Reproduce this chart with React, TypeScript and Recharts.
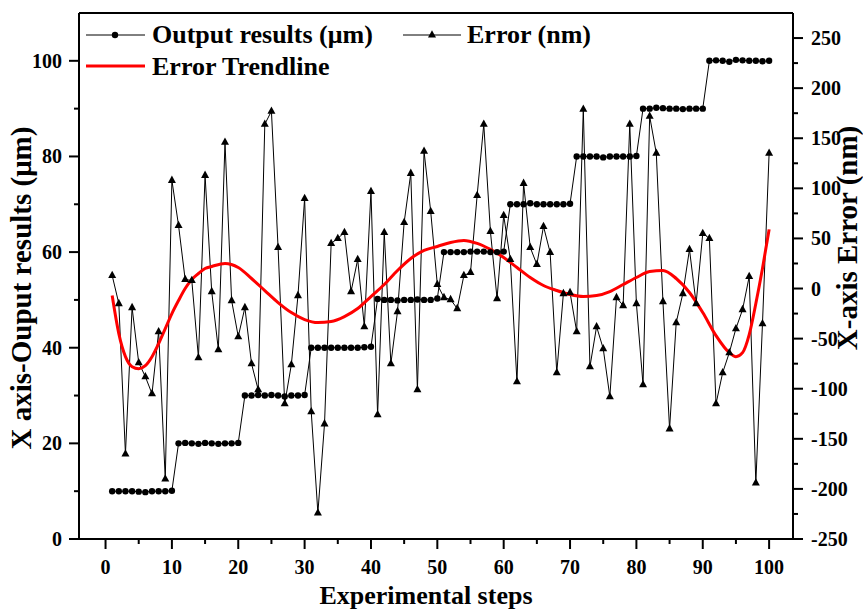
import { Customized, Line, LineChart, ReferenceLine, XAxis, YAxis } from "recharts";

const FONT = "'Liberation Serif', 'Times New Roman', serif";

// X axis-Ouput results (µm), steps 1..100
const outputResults = [
  10, 10, 10, 10, 9.9, 9.8, 10, 10, 10, 10.1,
  20, 20.1, 20, 19.9, 20.1, 20, 19.9, 20, 20, 20.1,
  30, 30, 30.1, 30, 30.1, 30, 29.8, 30, 30, 30.1,
  40, 40, 40, 40, 40, 40, 40, 40, 40.1, 40.2,
  50.2, 50, 50, 49.9, 50, 50, 50.1, 50, 50, 50.3,
  60, 60, 60, 60, 60.1, 60.1, 60.1, 60, 60, 60.1,
  70, 70, 70, 70.2, 70, 70, 70, 70, 70, 70.1,
  80, 80, 80, 80, 79.8, 80, 80, 80, 80, 80.1,
  90, 90, 90.2, 90.1, 90, 90, 89.9, 90, 90, 90,
  100, 100.1, 100, 99.8, 100.2, 100.1, 100, 100, 99.9, 100,
];

// X-axis Error (nm), steps 1..100
const errorNm = [
  13, -15, -165, -19, -74, -88, -105, -43, -190, 108,
  63, 9, 8, -69, 113, -3, -61, 146, -12, -48,
  -19, -75, -101, 164, 177, 41, -115, -76, -7, 90,
  -123, -224, -135, 45, 50, 56, -3, 29, -38, 97,
  -126, 56, -75, -23, 66, 115, -101, 137, 77, 4,
  -9, -11, -20, 13, 16, 93, 164, 57, -10, 73,
  29, -93, 105, 41, 24, 62, 36, -84, -5, -4,
  -43, 179, -78, -38, -60, -108, -9, -17, 164, -15,
  -96, 172, 135, -13, -140, -34, -5, 39, -15, 55,
  50, -115, -84, -64, -40, -21, 12, -194, -35, 135,
];

// Error trendline
const trendSteps = [
  1, 2, 3, 4, 5, 6, 7, 8, 9, 10, 11, 12, 13, 14, 15, 16, 18, 20, 22, 24,
  26, 28, 30, 32, 34, 36, 38, 40, 42, 44, 46, 48, 50, 52, 54, 56, 58, 60,
  62, 64, 66, 68, 70, 72, 74, 76, 78, 80, 82, 84, 86, 88, 90, 92, 94, 95,
  96, 97, 98, 99, 100,
];
const trendValues = [
  -7, -45, -68, -78, -80, -77, -68, -55, -40, -25, -12, 0, 9, 15, 20, 22, 25, 21, 10, -2,
  -14, -24, -31, -34, -33, -28, -20, -8, 4, 18, 30, 38, 42, 46, 48, 45, 39, 31,
  21, 11, 3, -2, -6, -8, -7, -3, 4, 11, 17, 18, 10, -4, -24, -47, -64, -68,
  -64, -46, -15, 20, 59,
];

const xTicks = [0, 5, 10, 15, 20, 25, 30, 35, 40, 45, 50, 55, 60, 65, 70, 75, 80, 85, 90, 95, 100];
const leftTicks = [0, 10, 20, 30, 40, 50, 60, 70, 80, 90, 100];
const rightTicks = [
  -250, -225, -200, -175, -150, -125, -100, -75, -50, -25, 0, 25, 50, 75, 100, 125, 150, 175, 200, 225, 250,
];

const data = outputResults.map((v, i) => {
  const step = i + 1;
  const t = trendSteps.indexOf(step);
  return { step, output: v, error: errorNm[i], trend: t >= 0 ? trendValues[t] : null };
});

const textStyle = { fontFamily: FONT, fontWeight: "bold" as const, fill: "#000" };

function XTick({ x, y, payload }: any) {
  const major = payload.value % 10 === 0;
  return (
    <g>
      <line x1={x} y1={y} x2={x} y2={y + (major ? 10 : 5)} stroke="#000" strokeWidth={2} />
      {major && (
        <text x={x} y={y + 35} textAnchor="middle" fontSize={20} {...textStyle}>
          {payload.value}
        </text>
      )}
    </g>
  );
}

function LeftTick({ x, y, payload }: any) {
  const major = payload.value % 20 === 0;
  return (
    <g>
      <line x1={x - (major ? 10 : 5)} y1={y} x2={x} y2={y} stroke="#000" strokeWidth={2} />
      {major && (
        <text x={x - 17} y={y + 7} textAnchor="end" fontSize={20} {...textStyle}>
          {payload.value}
        </text>
      )}
    </g>
  );
}

function RightTick({ x, y, payload }: any) {
  const major = payload.value % 50 === 0;
  return (
    <g>
      <line x1={x} y1={y} x2={x + (major ? 10 : 5)} y2={y} stroke="#000" strokeWidth={2} />
      {major && (
        <text x={x + 18} y={y + 7} textAnchor="start" fontSize={20} {...textStyle}>
          {payload.value}
        </text>
      )}
    </g>
  );
}

function Triangle({ cx, cy, index }: any) {
  if (cx == null || cy == null) return <g key={`t${index}`} />;
  return (
    <polygon
      key={`t${index}`}
      points={`${cx},${cy - 4.7} ${cx - 4},${cy + 2.6} ${cx + 4},${cy + 2.6}`}
      fill="#000"
    />
  );
}

function Overlay() {
  return (
    <g>
      {/* legend */}
      <line x1={86} y1={35} x2={145} y2={35} stroke="#000" strokeWidth={1} />
      <circle cx={115} cy={35} r={3.2} fill="#000" />
      <text x={152} y={43} fontSize={26} {...textStyle}>Output results (μm)</text>
      <line x1={403} y1={35} x2={461} y2={35} stroke="#000" strokeWidth={1} />
      <polygon points="432,30.3 428,37.6 436,37.6" fill="#000" />
      <text x={467} y={43} fontSize={26} {...textStyle}>Error (nm)</text>
      <line x1={86} y1={66} x2={145} y2={66} stroke="#ff0000" strokeWidth={3} />
      <text x={152} y={75} fontSize={26} {...textStyle}>Error Trendline</text>
      {/* axis titles */}
      <text x={426} y={604} textAnchor="middle" fontSize={26} {...textStyle}>Experimental steps</text>
      <text
        x={0}
        y={0}
        textAnchor="middle"
        fontSize={29}
        transform="translate(31 288) rotate(-90)"
        {...textStyle}
      >
        X axis-Ouput results (μm)
      </text>
      <text
        x={0}
        y={0}
        textAnchor="middle"
        fontSize={29}
        transform="translate(857 238) rotate(-90)"
        {...textStyle}
      >
        X-axis Error (nm)
      </text>
    </g>
  );
}

export default function App() {
  return (
    <div style={{ position: "absolute", left: 0, top: 0, width: 863, height: 615, background: "#fff" }}>
      <LineChart width={863} height={615} data={data} margin={{ top: 13, right: 0, bottom: 0, left: 0 }}>
        <XAxis
          dataKey="step"
          type="number"
          domain={[-4, 103.6]}
          ticks={xTicks}
          interval={0}
          height={76}
          tickSize={0}
          tickMargin={0}
          tickLine={false}
          axisLine={{ stroke: "#000", strokeWidth: 2 }}
          tick={<XTick />}
        />
        <YAxis
          yAxisId="left"
          orientation="left"
          type="number"
          domain={[0, 110]}
          ticks={leftTicks}
          interval={0}
          width={79}
          tickSize={0}
          tickMargin={0}
          tickLine={false}
          axisLine={{ stroke: "#000", strokeWidth: 2 }}
          tick={<LeftTick />}
        />
        <YAxis
          yAxisId="right"
          orientation="right"
          type="number"
          domain={[-250, 275]}
          ticks={rightTicks}
          interval={0}
          width={70}
          tickSize={0}
          tickMargin={0}
          tickLine={false}
          axisLine={{ stroke: "#000", strokeWidth: 2 }}
          tick={<RightTick />}
        />
        <ReferenceLine yAxisId="left" y={110} stroke="#000" strokeWidth={2} />
        <Line
          yAxisId="left"
          dataKey="output"
          type="linear"
          stroke="#000"
          strokeWidth={1}
          dot={{ r: 3.2, fill: "#000", stroke: "none" }}
          isAnimationActive={false}
        />
        <Line
          yAxisId="right"
          dataKey="error"
          type="linear"
          stroke="#000"
          strokeWidth={1}
          dot={Triangle}
          isAnimationActive={false}
        />
        <Line
          yAxisId="right"
          dataKey="trend"
          type="monotone"
          stroke="#ff0000"
          strokeWidth={3}
          dot={false}
          connectNulls
          isAnimationActive={false}
        />
        <Customized component={Overlay} />
      </LineChart>
    </div>
  );
}
